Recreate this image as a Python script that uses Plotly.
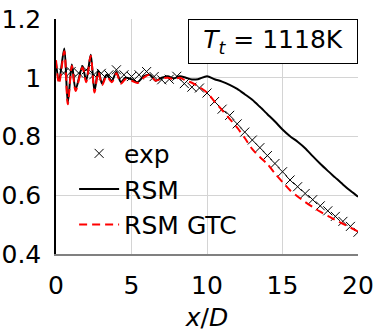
import plotly.graph_objects as go

# ---- data ----
exp_x = [0.5, 1.0, 1.5, 2.0, 2.5, 3.0, 3.5, 4.0, 4.5, 5.0, 5.5, 6.0, 6.5, 7.0, 7.5, 8.0,
         8.5, 9.0, 9.5, 10.0, 10.5, 11.0, 11.5, 12.0, 12.5, 13.0, 13.5, 14.0, 14.5, 15.0,
         15.5, 16.0, 16.5, 17.0, 17.5, 18.0, 18.5, 19.0, 19.5, 20.0]
exp_y = [1.016, 1.021, 1.016, 1.027, 1.010, 1.015, 1.010, 1.027, 1.010, 1.004, 1.010, 1.021,
         1.004, 0.993, 0.995, 1.005, 0.980, 0.968, 0.965, 0.948, 0.919, 0.893, 0.872, 0.843,
         0.815, 0.788, 0.762, 0.735, 0.708, 0.680, 0.652, 0.629, 0.606, 0.585, 0.564, 0.547,
         0.528, 0.511, 0.494, 0.474]

rsm_x = [0.0, 0.2, 0.55, 0.78, 1.05, 1.3, 1.75, 2.0, 2.3, 2.55, 2.8, 3.05, 3.35, 3.7, 4.0,
         4.3, 4.6, 5.0, 5.4, 5.8, 6.2, 6.6, 7.0, 7.4, 7.8, 8.2, 8.6, 9.0, 9.4, 10.0, 10.5,
         11.0, 11.5, 12.0, 12.5, 13.0, 13.5, 14.0, 14.5, 15.0, 15.5, 16.0, 16.5, 17.0, 17.5,
         18.0, 18.5, 19.0, 19.5, 20.0]
rsm_y = [1.05, 0.99, 1.10, 0.915, 1.045, 0.96, 1.04, 0.99, 1.078, 0.955, 1.025, 0.98, 1.01,
         0.99, 1.02, 0.985, 1.0, 0.995, 0.985, 1.005, 1.01, 0.99, 1.0, 1.005, 0.998, 1.005,
         1.0, 0.994, 0.995, 1.005, 0.995, 0.987, 0.976, 0.962, 0.944, 0.925, 0.901, 0.876,
         0.851, 0.824, 0.801, 0.782, 0.760, 0.733, 0.707, 0.683, 0.660, 0.637, 0.615, 0.595]

gtc_x = [0.0, 0.2, 0.55, 0.78, 1.05, 1.3, 1.75, 2.0, 2.3, 2.55, 2.8, 3.05, 3.35, 3.7, 4.0,
         4.3, 4.6, 5.0, 5.4, 5.8, 6.2, 6.6, 7.0, 7.4, 7.8, 8.2, 8.6, 9.0, 9.5, 10.0, 10.5,
         11.0, 11.5, 12.0, 12.5, 13.0, 13.5, 14.0, 14.5, 15.0, 15.5, 16.0, 16.5, 17.0, 17.5,
         18.0, 18.5, 19.0, 19.5, 20.0]
gtc_y = [1.06, 0.98, 1.09, 0.91, 1.04, 0.955, 1.035, 0.985, 1.075, 0.95, 1.02, 0.975, 1.005,
         0.985, 1.015, 0.98, 0.995, 0.99, 0.982, 1.0, 1.01, 0.99, 0.998, 1.0, 0.995, 1.0,
         0.99, 0.983, 0.968, 0.950, 0.919, 0.890, 0.860, 0.830, 0.795, 0.757, 0.730, 0.706,
         0.674, 0.645, 0.617, 0.596, 0.577, 0.560, 0.544, 0.530, 0.516, 0.503, 0.490, 0.476]

x_ticks = [0, 5, 10, 15, 20]
y_ticks = [0.4, 0.6, 0.8, 1.0, 1.2]
y_tick_text = ["0.4", "0.6", "0.8", "1", "1.2"]

FONT = "DejaVu Sans"

fig = go.Figure()
fig.add_trace(go.Scatter(x=exp_x, y=exp_y, mode="markers", name="exp",
                         marker=dict(symbol="x-thin", size=9, color="black",
                                     line=dict(width=1, color="black"))))
fig.add_trace(go.Scatter(x=rsm_x, y=rsm_y, mode="lines", name="RSM",
                         line=dict(color="black", width=2, shape="spline", smoothing=0.8)))
fig.add_trace(go.Scatter(x=gtc_x, y=gtc_y, mode="lines", name="RSM GTC",
                         line=dict(color="red", width=2, dash="8px,5px", shape="spline",
                                   smoothing=0.8)))

fig.update_layout(
    width=375, height=332,
    margin=dict(l=56, r=17, t=19, b=78),
    paper_bgcolor="white", plot_bgcolor="white",
    font=dict(family=FONT, size=25, color="black"),
    showlegend=True,
    legend=dict(x=0.06, y=0.525, xanchor="left", yanchor="top",
                bgcolor="rgba(0,0,0,0)", borderwidth=0,
                font=dict(family=FONT, size=25), itemwidth=40, tracegroupgap=0),
    xaxis=dict(range=[0, 20], tickvals=x_ticks, showgrid=True, gridcolor="#d4d4d4",
               gridwidth=1, zeroline=False, showline=True, linecolor="#808080",
               linewidth=1.5, ticks="", ticklabelstandoff=8, automargin=False,
               tickfont=dict(size=25),
               title=dict(text="<i>x</i>/<i>D</i>", font=dict(size=25), standoff=12)),
    yaxis=dict(range=[0.4, 1.2], tickvals=y_ticks, ticktext=y_tick_text, showgrid=True,
               gridcolor="#d4d4d4", gridwidth=1, zeroline=False, showline=True,
               linecolor="black", linewidth=1.5, ticks="", ticklabelstandoff=8,
               automargin=False, tickfont=dict(size=25)),
    annotations=[dict(text="<i>T</i><sub><i>t</i></sub> = 1118K", xref="paper", yref="paper",
                      x=1, y=1, xanchor="right", yanchor="top", showarrow=False,
                      font=dict(family=FONT, size=25), bgcolor="white",
                      bordercolor="black", borderwidth=1, width=166, height=41)],
)

fig.write_html("out.html")
